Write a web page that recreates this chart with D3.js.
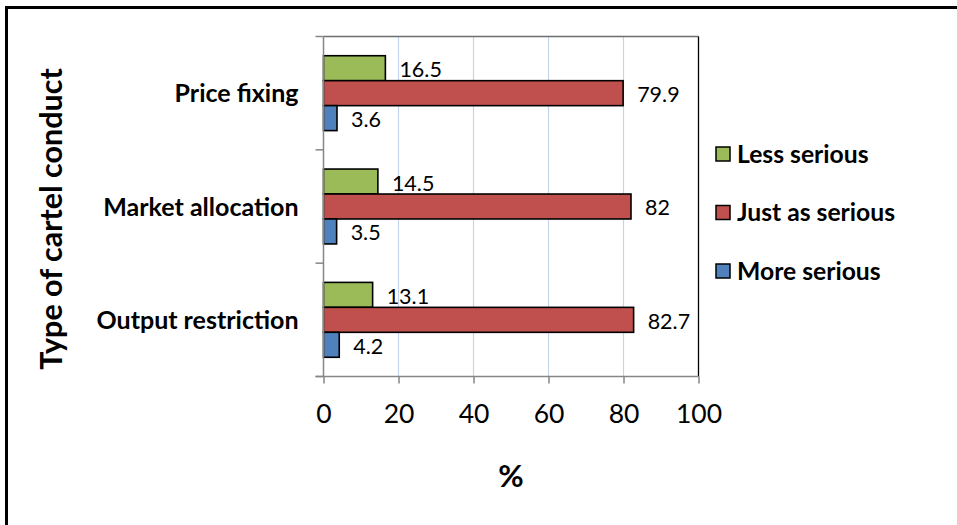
<!DOCTYPE html>
<html>
<head>
<meta charset="utf-8">
<script src="https://cdn.jsdelivr.net/npm/d3@7"></script>
<style>
  html, body { margin: 0; padding: 0; background: #fff; }
  svg { display: block; }
  text { font-family: Lato, "Open Sans", sans-serif; fill: #000; }
</style>
</head>
<body>
<svg id="chart" width="957" height="525"></svg>
<script>
// Categories from top to bottom
const categories = ["Price fixing", "Market allocation", "Output restriction"];
// Series in the order they are stacked inside each group (top to bottom)
const seriesNames = ["Less serious", "Just as serious", "More serious"];
const seriesColors = ["#9BBB59", "#C0504D", "#4F81BD"];
// Values per series, one entry per category
const lessSerious = [16.5, 14.5, 13.1];
const justAsSerious = [79.9, 82, 82.7];
const moreSerious = [3.6, 3.5, 4.2];
const xTicks = [0, 20, 40, 60, 80, 100];

const seriesValues = [lessSerious, justAsSerious, moreSerious];

const svg = d3.select("#chart");

// Outer frame (runs off the right and bottom edges)
svg.append("rect")
  .attr("x", 6.5).attr("y", 7.5)
  .attr("width", 1000).attr("height", 600)
  .attr("fill", "#fff")
  .attr("stroke", "#000").attr("stroke-width", 3);

const plot = { left: 323.5, right: 698.5, top: 36.5, bottom: 376.5 };

const x = d3.scaleLinear().domain([0, 100]).range([plot.left, plot.right]);
const y = d3.scaleBand().domain(categories).range([plot.top, plot.bottom]).padding(0);
const ySub = d3.scaleBand().domain(seriesNames).range([0, y.bandwidth()])
  .paddingInner(0).paddingOuter(0.77);

// Vertical gridlines
svg.append("g").selectAll("line")
  .data(xTicks.filter(t => t > 0 && t < 100))
  .join("line")
  .attr("x1", d => x(d)).attr("x2", d => x(d))
  .attr("y1", plot.top).attr("y2", plot.bottom)
  .attr("stroke", "#C3D4EC").attr("stroke-width", 1.2);

// Plot area border: top in grey, right in black
svg.append("line")
  .attr("x1", plot.left).attr("x2", plot.right)
  .attr("y1", plot.top).attr("y2", plot.top)
  .attr("stroke", "#6E6E6E").attr("stroke-width", 1.5);
svg.append("line")
  .attr("x1", plot.right).attr("x2", plot.right)
  .attr("y1", plot.top).attr("y2", plot.bottom)
  .attr("stroke", "#000").attr("stroke-width", 1.3);

// Bars
const groups = svg.append("g").selectAll("g")
  .data(categories)
  .join("g")
  .attr("transform", d => `translate(0,${y(d)})`);

groups.each(function (cat, ci) {
  const g = d3.select(this);
  const rows = seriesNames.map((s, si) => ({ s, si, v: seriesValues[si][ci] }));
  g.selectAll("rect")
    .data(rows)
    .join("rect")
    .attr("x", x(0))
    .attr("y", d => ySub(d.s))
    .attr("width", d => x(d.v) - x(0))
    .attr("height", ySub.bandwidth())
    .attr("fill", d => seriesColors[d.si])
    .attr("stroke", "#000").attr("stroke-width", 1.6);
  g.selectAll("text.val")
    .data(rows)
    .join("text")
    .attr("class", "val")
    .attr("x", d => x(d.v) + 14)
    .attr("y", d => ySub(d.s) + ySub.bandwidth() / 2 + 9)
    .attr("font-size", 21.5)
    .text(d => d.v);
});

// Y axis (category axis)
const yAxis = svg.append("g").attr("transform", `translate(${plot.left},0)`);
yAxis.append("line")
  .attr("x1", 0).attr("x2", 0).attr("y1", plot.top).attr("y2", plot.bottom)
  .attr("stroke", "#868686").attr("stroke-width", 1.5);
const bounds = categories.map(c => y(c)).concat([plot.bottom]);
yAxis.selectAll("line.tick")
  .data(bounds)
  .join("line")
  .attr("class", "tick")
  .attr("x1", -8).attr("x2", 0)
  .attr("y1", d => d).attr("y2", d => d)
  .attr("stroke", "#868686").attr("stroke-width", 1.5);
yAxis.selectAll("text")
  .data(categories)
  .join("text")
  .attr("x", -25)
  .attr("y", d => y(d) + y.bandwidth() / 2 + 9)
  .attr("text-anchor", "end")
  .attr("font-size", 25).attr("font-weight", "bold")
  .text(d => d);

// X axis (value axis)
const xAxis = svg.append("g")
  .attr("transform", `translate(0,${plot.bottom})`)
  .call(d3.axisBottom(x).tickValues(xTicks).tickSize(7).tickPadding(21));
xAxis.select(".domain")
  .attr("d", `M${plot.left - 8},0H${plot.right}`)
  .attr("stroke", "#868686").attr("stroke-width", 1.5);
xAxis.selectAll(".tick line").attr("stroke", "#868686").attr("stroke-width", 1.5);
xAxis.selectAll(".tick text")
  .attr("font-family", "Lato, sans-serif")
  .attr("font-size", 26.5)
  .attr("fill", "#000");

// Axis titles
svg.append("text")
  .attr("transform", `translate(62,219) rotate(-90)`)
  .attr("text-anchor", "middle")
  .attr("font-size", 30.5).attr("font-weight", "bold")
  .text("Type of cartel conduct");
svg.append("text")
  .attr("x", 511).attr("y", 487)
  .attr("text-anchor", "middle")
  .attr("font-size", 31).attr("font-weight", "bold")
  .text("%");

// Legend
const legend = svg.append("g").selectAll("g")
  .data(seriesNames)
  .join("g")
  .attr("transform", (d, i) => `translate(716,${147 + i * 58.5})`);
legend.append("rect")
  .attr("width", 14).attr("height", 14)
  .attr("fill", (d, i) => seriesColors[i])
  .attr("stroke", "#000").attr("stroke-width", 1.5);
legend.append("text")
  .attr("x", 21).attr("y", 15.5)
  .attr("font-size", 24.7).attr("font-weight", "bold")
  .text(d => d);
</script>
</body>
</html>
